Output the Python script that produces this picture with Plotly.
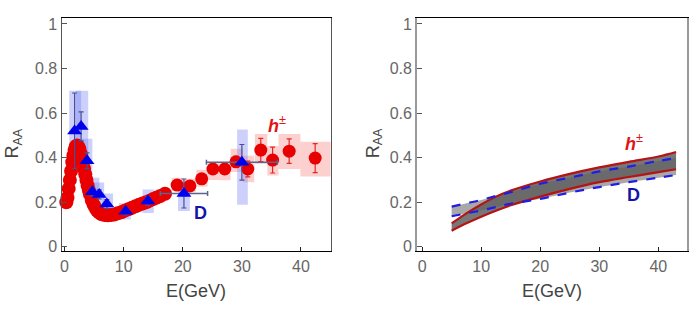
import plotly.graph_objects as go

# ---------------- Left panel data ----------------
# dense h± curve (low energy)
h_dense_E = [0.3, 0.5, 0.7, 0.9, 1.1, 1.3, 1.5, 1.7, 1.9, 2.1, 2.3, 2.5, 2.7, 2.9, 3.1, 3.3,
             3.5, 3.7, 3.9, 4.1, 4.3, 4.6, 4.9, 5.2, 5.5, 5.9, 6.3, 6.8, 7.3, 7.8, 8.4, 9.0,
             9.6, 10.2, 10.8, 11.4, 12.0, 12.6, 13.2, 13.8, 14.4, 15.0, 15.6, 16.2, 17.0]
h_dense_R = [0.20, 0.22, 0.26, 0.30, 0.34, 0.38, 0.41, 0.435, 0.45, 0.455, 0.45, 0.44, 0.42,
             0.40, 0.375, 0.35, 0.325, 0.30, 0.275, 0.255, 0.235, 0.21, 0.19, 0.175, 0.162,
             0.152, 0.146, 0.142, 0.141, 0.142, 0.145, 0.150, 0.155, 0.162, 0.168, 0.175,
             0.182, 0.188, 0.194, 0.200, 0.207, 0.214, 0.221, 0.228, 0.238]

# discrete h± points
h_E = [19.05, 21.2, 23.2, 25.1, 27.1, 29.0, 31.0, 33.2, 35.2, 38.0, 42.4]
h_R = [0.277, 0.273, 0.305, 0.349, 0.349, 0.381, 0.349, 0.434, 0.389, 0.429, 0.398]
h_err = [0.015, 0.015, 0.015, 0.02, 0.02, 0.025, 0.035, 0.052, 0.058, 0.055, 0.065]
h_box_lo = [0.25, 0.245, 0.269, 0.30, 0.298, 0.335, 0.29, 0.371, 0.32, 0.349, 0.315]
h_box_hi = [0.31, 0.305, 0.346, 0.38, 0.379, 0.44, 0.408, 0.506, 0.452, 0.506, 0.471]
h_box_E0 = [18.1, 20.1, 22.3, 24.2, 26.2, 28.1, 30.2, 32.2, 34.3, 36.2, 39.9]
h_box_E1 = [20.1, 22.2, 24.2, 26.2, 28.1, 30.2, 32.1, 34.3, 36.2, 39.9, 45.5]

# D mesons
D_E = [1.7, 2.8, 3.8, 4.7, 5.86, 7.15, 10.35, 14.1, 20.2, 30.0]
D_R = [0.52, 0.54, 0.386, 0.247, 0.235, 0.192, 0.159, 0.205, 0.239, 0.379]
D_err = [0.17, 0.065, 0.035, 0.02, 0.02, 0.02, 0.015, 0.02, 0.065, 0.08]
D_xerr = [0, 0, 0, 0, 0, 0, 0, 0, 4.0, 6.0]
D_box_lo = [0.35, 0.38, 0.305, 0.217, 0.188, 0.159, 0.122, 0.151, 0.161, 0.188]
D_box_hi = [0.70, 0.70, 0.485, 0.31, 0.288, 0.239, 0.195, 0.257, 0.29, 0.526]
D_box_E0 = [0.8, 1.9, 2.9, 4.2, 5.0, 6.4, 9.2, 13.2, 19.2, 29.2]
D_box_E1 = [2.8, 4.0, 4.7, 5.9, 6.7, 8.2, 11.2, 15.1, 21.2, 31.0]

# ---------------- Right panel data ----------------
band_E = [5, 7.5, 10, 12.5, 15, 20, 25, 30, 35, 40, 43]
h_up = [0.105, 0.15, 0.19, 0.225, 0.252, 0.293, 0.327, 0.356, 0.381, 0.405, 0.425]
h_lo = [0.072, 0.105, 0.135, 0.162, 0.186, 0.225, 0.26, 0.29, 0.313, 0.335, 0.348]
D_up = [0.18, 0.195, 0.21, 0.228, 0.245, 0.283, 0.31, 0.338, 0.36, 0.385, 0.398]
D_lo = [0.137, 0.15, 0.163, 0.178, 0.193, 0.215, 0.243, 0.268, 0.29, 0.31, 0.322]

x_ticks = [0, 10, 20, 30, 40]
y_ticks = [0, 0.2, 0.4, 0.6, 0.8, 1]
y_tick_text = ["0", "0.2", "0.4", "0.6", "0.8", "1"]

RED = "rgb(232,0,0)"
BLUE = "rgb(0,0,235)"
FONT = "Liberation Sans, Arial, sans-serif"

fig = go.Figure()

shapes = []
for e0, e1, lo, hi in zip(h_box_E0, h_box_E1, h_box_lo, h_box_hi):
    shapes.append(dict(type="rect", xref="x", yref="y", x0=e0, x1=e1, y0=lo, y1=hi,
                       fillcolor="rgba(250,120,120,0.35)", line=dict(width=0), layer="below"))
for e0, e1, lo, hi in zip(D_box_E0, D_box_E1, D_box_lo, D_box_hi):
    shapes.append(dict(type="rect", xref="x", yref="y", x0=e0, x1=e1, y0=lo, y1=hi,
                       fillcolor="rgba(110,120,240,0.35)", line=dict(width=0), layer="below"))

# dense red curve
fig.add_trace(go.Scatter(x=h_dense_E, y=h_dense_R, mode="markers",
                         marker=dict(color=RED, size=14, line=dict(width=0)),
                         xaxis="x", yaxis="y", showlegend=False, cliponaxis=False))
# red discrete points
fig.add_trace(go.Scatter(x=h_E, y=h_R, mode="markers",
                         marker=dict(color=RED, size=13, line=dict(width=0)),
                         error_y=dict(type="data", array=h_err, color="rgb(225,40,40)",
                                      thickness=1.2, width=2.5),
                         xaxis="x", yaxis="y", showlegend=False))
# D mesons
fig.add_trace(go.Scatter(x=D_E, y=D_R, mode="markers",
                         marker=dict(color=BLUE, size=13, symbol="triangle-up", line=dict(width=0)),
                         error_y=dict(type="data", array=D_err, color="rgb(70,80,150)",
                                      thickness=1.2, width=2.5),
                         error_x=dict(type="data", array=D_xerr, color="rgb(90,100,140)",
                                      thickness=1.5, width=2.5),
                         xaxis="x", yaxis="y", showlegend=False))

# right panel bands
fig.add_trace(go.Scatter(x=band_E, y=D_lo, mode="lines", line=dict(width=0, shape="spline"),
                         xaxis="x2", yaxis="y2", showlegend=False))
fig.add_trace(go.Scatter(x=band_E, y=D_up, mode="lines", line=dict(width=0, shape="spline"),
                         fill="tonexty", fillcolor="rgb(168,168,168)",
                         xaxis="x2", yaxis="y2", showlegend=False))
fig.add_trace(go.Scatter(x=band_E, y=h_lo, mode="lines", line=dict(width=0, shape="spline"),
                         xaxis="x2", yaxis="y2", showlegend=False))
fig.add_trace(go.Scatter(x=band_E, y=h_up, mode="lines", line=dict(width=0, shape="spline"),
                         fill="tonexty", fillcolor="rgba(95,95,95,0.85)",
                         xaxis="x2", yaxis="y2", showlegend=False))
for arr in (h_up, h_lo):
    fig.add_trace(go.Scatter(x=band_E, y=arr, mode="lines",
                             line=dict(color="rgb(180,20,20)", width=2.2, shape="spline"),
                             xaxis="x2", yaxis="y2", showlegend=False))
for arr in (D_up, D_lo):
    fig.add_trace(go.Scatter(x=band_E, y=arr, mode="lines",
                             line=dict(color="rgb(30,30,230)", width=2.2, dash="dash", shape="spline"),
                             xaxis="x2", yaxis="y2", showlegend=False))

tickfont = dict(family=FONT, size=16, color="#666666")
common_x = dict(range=[-0.5, 45], tickvals=x_ticks, ticks="inside", ticklen=4,
                tickcolor="#222", showline=True, linecolor="black", linewidth=1.3,
                mirror=True, showgrid=False, zeroline=False, tickfont=tickfont)
common_y = dict(range=[-0.02, 1.028], tickvals=y_ticks, ticktext=y_tick_text,
                ticks="inside", ticklen=5, tickcolor="#555", showline=True,
                mirror=True, showgrid=False, zeroline=False, tickfont=tickfont,
                domain=[0.2038, 0.9498])

title_font = dict(family=FONT, size=18, color="#444")
fig.update_layout(
    width=692, height=319,
    margin=dict(l=0, r=0, t=0, b=0),
    paper_bgcolor="white", plot_bgcolor="white",
    xaxis=dict(common_x, domain=[0.0877, 0.4769], anchor="y"),
    yaxis=dict(common_y, linecolor="#555", linewidth=1.3, anchor="x"),
    xaxis2=dict(common_x, domain=[0.6022, 0.9923], anchor="y2", range=[-0.85, 44.8]),
    yaxis2=dict(common_y, linecolor="#999", linewidth=2, anchor="x2"),
    shapes=shapes,
    annotations=[
        dict(text="E(GeV)", x=0.5, y=-0.17, xref="x domain", yref="y domain", showarrow=False,
             font=title_font, xanchor="center", yanchor="middle"),
        dict(text="E(GeV)", x=0.5, y=-0.17, xref="x2 domain", yref="y2 domain", showarrow=False,
             font=title_font, xanchor="center", yanchor="middle"),
        dict(text="R<sub>AA</sub>", x=-0.178, y=0.46, xref="x domain", yref="y domain",
             showarrow=False, textangle=-90, font=title_font, xanchor="center", yanchor="middle"),
        dict(text="R<sub>AA</sub>", x=-0.158, y=0.46, xref="x2 domain", yref="y2 domain",
             showarrow=False, textangle=-90, font=title_font, xanchor="center", yanchor="middle"),
        dict(text="<b><i>h</i></b><sup>±</sup>", x=35.9, y=0.548, xref="x", yref="y",
             showarrow=False, font=dict(family=FONT, size=18, color="rgb(225,20,20)")),
        dict(text="<b>D</b>", x=23.0, y=0.151, xref="x", yref="y",
             showarrow=False, font=dict(family=FONT, size=18, color="rgb(20,20,170)")),
        dict(text="<b><i>h</i></b><sup>±</sup>", x=35.8, y=0.467, xref="x2", yref="y2",
             showarrow=False, font=dict(family=FONT, size=18, color="rgb(225,20,20)")),
        dict(text="<b>D</b>", x=35.8, y=0.232, xref="x2", yref="y2",
             showarrow=False, font=dict(family=FONT, size=18, color="rgb(20,20,170)")),
    ],
)

fig.write_html("out.html", config={"displayModeBar": False},
               post_script="document.body.style.margin='0';document.body.style.overflow='hidden';")
